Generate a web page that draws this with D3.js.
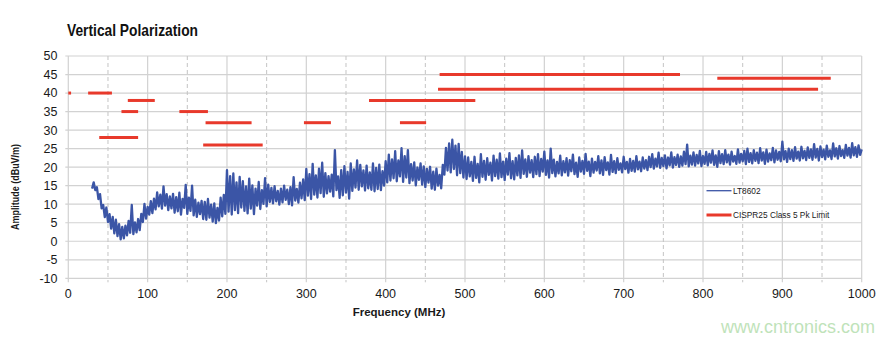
<!DOCTYPE html>
<html>
<head>
<meta charset="utf-8">
<script src="https://cdn.jsdelivr.net/npm/d3@7"></script>
<style>
  html, body { margin: 0; padding: 0; background: #ffffff; }
  svg { display: block; }
</style>
</head>
<body>
<svg id="chart" width="895" height="342"></svg>
<script>
// ---------------- DATA ----------------
const title = "Vertical Polarization";
const xLabel = "Frequency (MHz)";
const yLabel = "Amplitude (dBuV/m)";
const xTicks = [0, 100, 200, 300, 400, 500, 600, 700, 800, 900, 1000];
const xMinorTicks = [50, 150, 250, 350, 450, 550, 650, 750, 850, 950];
const yTicks = [-10, -5, 0, 5, 10, 15, 20, 25, 30, 35, 40, 45, 50];
const seriesNames = ["LT8602", "CISPR25 Class 5 Pk Limit"];

// CISPR25 Class 5 peak limit segments (MHz start, MHz end, dBuV/m)
const limitStart = [0, 25, 75, 67, 140, 39, 173, 297, 418, 170, 468, 818, 466, 379];
const limitEnd   = [3.5, 55, 109, 88, 176, 88, 231, 331, 451, 245, 771, 961, 945, 513];
const limitLevel = [40, 40, 38, 35, 35, 28, 32, 32, 32, 26, 45, 44, 41, 38];

// LT8602 measured trace: sweep start / step (MHz) and amplitudes (dBuV/m)
const sweepStart = 30;
const sweepStep = 2;
const lt8602 = [
  14.2,15.9,13.8,14.6,11.4,12.7,8.9,9.8,6.5,9.1,
  5.2,7.3,3.4,6.6,2.1,5.8,1.4,4.6,0.5,3.9,
  0.8,4.2,1.6,5.5,2.3,9.8,1.9,5.1,2.4,6.0,
  3.0,7.4,5.2,10.1,6.1,9.3,7.2,10.8,7.6,11.5,
  8.6,13.2,9.4,12.6,8.8,14.8,9.6,12.7,8.4,12.1,
  8.9,12.8,7.7,11.9,8.1,13.1,7.2,11.4,9.0,15.2,
  7.4,11.8,8.2,15.0,7.0,11.2,6.6,10.4,7.3,10.9,
  6.0,10.6,5.8,11.4,6.4,9.9,5.3,10.2,4.9,9.0,
  5.6,11.8,6.7,12.5,7.4,19.2,8.0,17.6,7.2,18.3,
  8.4,15.9,7.6,17.4,9.1,16.2,8.2,14.8,7.5,16.9,
  8.8,15.1,7.3,14.2,9.6,16.0,8.7,13.8,10.1,17.0,
  9.4,15.3,10.6,14.4,10.2,14.9,10.8,13.6,9.9,14.2,
  10.5,15.0,11.2,13.9,10.0,14.6,9.7,17.3,11.0,14.1,
  10.4,15.8,11.6,16.7,11.1,19.5,12.3,18.1,11.4,20.9,
  12.6,17.8,11.8,19.6,13.0,21.2,12.0,18.4,12.9,17.6,
  13.4,18.0,12.1,24.6,13.8,17.5,11.7,19.2,12.4,20.3,
  13.1,18.7,11.5,21.0,13.6,19.4,14.5,21.8,13.9,20.6,
  14.8,19.1,13.7,20.4,14.3,18.6,13.9,21.0,13.5,19.8,
  14.1,20.7,13.8,18.9,15.0,21.6,15.9,23.4,16.4,22.1,
  17.0,24.3,16.2,21.8,17.5,25.1,16.0,23.0,17.2,24.6,
  15.7,20.8,16.4,21.3,15.1,19.9,16.6,21.0,15.3,20.2,
  14.6,19.5,15.8,20.1,14.2,18.8,13.9,19.6,15.0,17.9,
  14.3,20.6,18.0,25.2,19.1,26.4,18.6,27.4,19.5,25.8,
  17.8,26.3,18.4,24.1,17.2,22.9,16.8,22.6,17.5,21.4,
  16.3,22.8,17.1,20.9,15.9,23.5,17.4,21.7,16.6,22.4,
  17.9,21.2,16.4,23.1,17.6,22.0,16.9,23.7,17.3,21.5,
  16.5,22.3,18.0,23.8,17.0,21.6,16.7,22.5,17.8,23.2,
  17.1,24.5,18.2,22.1,17.4,23.0,18.5,21.9,17.3,22.8,
  18.1,23.5,17.6,22.2,18.8,24.2,17.9,21.8,17.2,25.0,
  18.4,22.0,17.5,21.4,18.3,23.1,17.8,21.6,18.6,22.4,
  17.7,21.9,18.9,23.4,18.1,21.2,17.4,22.6,18.8,21.7,
  18.2,23.6,19.0,21.5,17.6,22.3,18.5,21.4,19.1,23.0,
  18.3,21.8,17.9,22.7,19.2,21.3,18.0,23.3,18.7,21.6,
  18.4,22.4,19.3,21.0,18.6,22.8,19.5,21.4,18.5,22.2,
  19.0,21.7,18.8,23.0,19.4,21.5,18.9,22.6,19.6,21.9,
  19.2,22.8,20.0,23.5,19.6,22.3,20.2,23.9,19.8,22.5,
  20.3,23.2,19.7,22.6,20.5,24.0,19.9,22.7,20.6,23.4,
  20.1,22.9,20.4,24.2,20.8,26.1,20.2,23.1,20.7,24.0,
  20.4,23.3,21.0,24.4,20.3,23.0,20.9,24.1,20.5,23.6,
  21.2,24.5,20.6,23.2,20.1,24.3,21.1,23.5,20.8,24.6,
  21.3,23.4,20.7,24.2,21.5,23.0,20.9,24.8,21.2,23.6,
  21.6,24.4,20.8,25.0,21.4,23.8,21.0,24.6,21.7,23.9,
  21.1,25.1,21.8,24.0,20.9,24.7,21.5,23.7,21.9,25.2,
  21.3,24.5,22.0,24.1,21.6,26.9,22.1,24.3,21.4,25.0,
  22.2,24.6,21.7,25.4,22.3,24.2,21.8,25.5,22.4,24.4,
  21.9,25.3,22.5,24.8,22.0,26.2,22.6,24.9,21.8,25.6,
  22.7,24.7,22.1,25.8,22.8,24.5,22.2,26.4,22.9,25.1,
  22.3,25.7,23.0,24.6,22.5,26.0,23.1,25.2,22.6,26.5,
  23.2,25.4,22.8,25.9,23.3,24.8
];

// ---------------- LAYOUT ----------------
const svg = d3.select("#chart");
const x = d3.scaleLinear().domain([0, 1000]).range([68.3, 861.7]);
const y = d3.scaleLinear().domain([-10, 50]).range([278.3, 56]);
const gridColor = "#d2d2d2";
const textColor = "#1a1a1a";
const blue = "#3b55a6";
const red = "#e8392b";
const font = "'Liberation Sans', Arial, sans-serif";

// Title
svg.append("text")
  .attr("x", 67).attr("y", 35.5)
  .attr("font-family", font).attr("font-weight", "bold")
  .attr("font-size", 16.5).attr("fill", "#111")
  .attr("textLength", 131).attr("lengthAdjust", "spacingAndGlyphs")
  .text(title);

// Horizontal gridlines
svg.append("g").selectAll("line").data(yTicks).join("line")
  .attr("x1", x(0) - 3).attr("x2", x(1000))
  .attr("y1", d => y(d)).attr("y2", d => y(d))
  .attr("stroke", gridColor).attr("stroke-width", 1.2);

// Vertical dashed minor gridlines
svg.append("g").selectAll("line").data(xMinorTicks).join("line")
  .attr("x1", d => x(d)).attr("x2", d => x(d))
  .attr("y1", y(50)).attr("y2", y(-10) + 4)
  .attr("stroke", "#c4c4c4").attr("stroke-width", 1)
  .attr("stroke-dasharray", "4,3");

// Vertical solid major gridlines
svg.append("g").selectAll("line").data(xTicks).join("line")
  .attr("x1", d => x(d)).attr("x2", d => x(d))
  .attr("y1", y(50)).attr("y2", y(-10) + 4)
  .attr("stroke", gridColor).attr("stroke-width", 1.2);

// Axis tick labels
svg.append("g").selectAll("text").data(yTicks).join("text")
  .attr("x", 57.5).attr("y", d => y(d) + 4.4)
  .attr("text-anchor", "end")
  .attr("font-family", font).attr("font-size", 12.5).attr("fill", textColor)
  .text(d => d);

svg.append("g").selectAll("text").data(xTicks).join("text")
  .attr("x", d => x(d)).attr("y", 298)
  .attr("text-anchor", "middle")
  .attr("font-family", font).attr("font-size", 12.5).attr("fill", textColor)
  .text(d => d);

// Axis titles
svg.append("text")
  .attr("x", 399).attr("y", 316)
  .attr("text-anchor", "middle")
  .attr("font-family", font).attr("font-weight", "bold")
  .attr("font-size", 11.5).attr("fill", textColor)
  .text(xLabel);

svg.append("text")
  .attr("transform", "translate(19,187) rotate(-90)")
  .attr("text-anchor", "middle")
  .attr("font-family", font).attr("font-weight", "bold")
  .attr("font-size", 10).attr("fill", textColor)
  .attr("textLength", 86).attr("lengthAdjust", "spacingAndGlyphs")
  .text(yLabel);

// Trace
const traceData = lt8602.map((v, i) => [sweepStart + i * sweepStep, v]);
svg.append("path")
  .datum(traceData)
  .attr("fill", "none")
  .attr("stroke", blue)
  .attr("stroke-width", 2.3)
  .attr("stroke-linejoin", "round")
  .attr("d", d3.line().x(d => x(d[0])).y(d => y(d[1])));

// Limit lines
const limits = limitStart.map((s, i) => ({ s, e: limitEnd[i], v: limitLevel[i] }));
svg.append("g").selectAll("line").data(limits).join("line")
  .attr("x1", d => x(d.s)).attr("x2", d => x(d.e))
  .attr("y1", d => y(d.v)).attr("y2", d => y(d.v))
  .attr("stroke", red).attr("stroke-width", 3);

// Legend
const legend = svg.append("g");
const legendY = [190.7, 215];
legend.selectAll("line").data(seriesNames).join("line")
  .attr("x1", 706.5).attr("x2", 731.5)
  .attr("y1", (d, i) => legendY[i]).attr("y2", (d, i) => legendY[i])
  .attr("stroke", (d, i) => i === 0 ? blue : red)
  .attr("stroke-width", (d, i) => i === 0 ? 1.3 : 3);
legend.selectAll("text").data(seriesNames).join("text")
  .attr("x", 733).attr("y", (d, i) => legendY[i] + 3)
  .attr("font-family", font).attr("font-size", 8.3).attr("fill", textColor)
  .text(d => d);

// Watermark
svg.append("text")
  .attr("x", 875).attr("y", 333)
  .attr("text-anchor", "end")
  .attr("font-family", font).attr("font-size", 18)
  .attr("fill", "#bfe3ba")
  .text("www.cntronics.com");
</script>
</body>
</html>
